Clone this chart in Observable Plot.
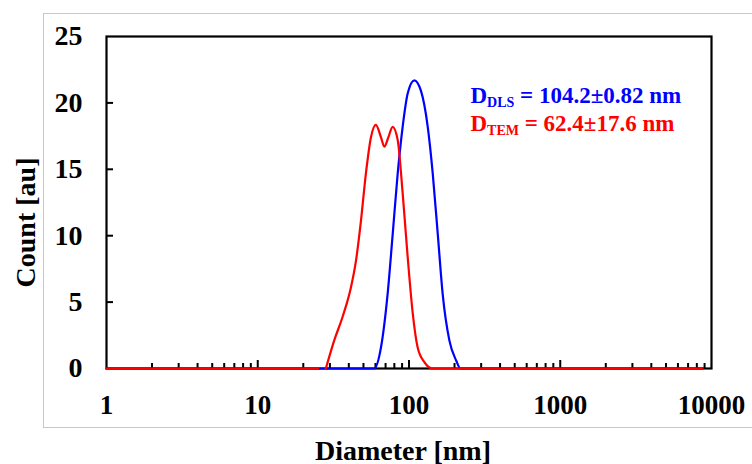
<!DOCTYPE html>
<html><head><meta charset="utf-8">
<script src="https://cdn.jsdelivr.net/npm/d3@7"></script>
<script src="https://cdn.jsdelivr.net/npm/@observablehq/plot@0.6"></script>
<style>
html,body{margin:0;padding:0;background:#fff;overflow:hidden;}
#wrap{position:relative;width:752px;height:464px;}
#border{position:absolute;left:43px;top:13px;width:760px;height:415px;border:1px solid #c8c8c8;box-sizing:border-box;}
#chart{position:absolute;left:0;top:0;}
</style></head><body>
<div id="wrap"><div id="border"></div><div id="chart"></div></div>
<script>
// ---- data ----
const xTicks = [1, 10, 100, 1000, 10000];
const xMinorTicks = [2,3,4,5,6,7,8,9, 20,30,40,50,60,70,80,90, 200,300,400,500,600,700,800,900, 2000,3000,4000,5000,6000,7000,8000,9000];
const xMajorInnerTicks = [10, 100, 1000];
const yTicks = [0, 5, 10, 15, 20, 25];
const yInnerTicks = [5, 10, 15, 20];

const dlsDiameter = [1, 58.9, 65.3, 72.2, 78, 84.2, 90.8, 98, 108.4, 120, 133, 143.5, 155, 167, 185, 205, 219, 8700];
const dlsCount    = [0, 0,    1.6,  5.6,  10.1, 14.7, 18.2, 20.7, 21.7, 20.9, 18.2, 14.7, 10.1, 5.6, 2.1, 0.6, 0, 0];

const temDiameter = [1, 25, 26.5, 28.2, 32, 36.4, 41.3, 44.6, 48.1, 51.9, 56, 60.4, 65.3, 68.7, 73, 78, 84.2, 90.8, 98, 106, 114, 126, 143.5, 8700];
const temCount    = [0, 0, null, 0,  2.1, 3.9, 6.1, 8.1, 11.1, 14.7, 17.4, 18.35, 17.4, 16.7, 17.4, 18.2, 17.2, 13.2, 8.4, 4.1, 1.6, 0.5, 0, 0];

const xTitle = "Diameter [nm]";
const yTitle = "Count [au]";
const annoLines = ["D|DLS| = 104.2±0.82 nm", "D|TEM| = 62.4±17.6 nm"];

// ---- chart ----
const W = 752, H = 464, mL = 106, mR = 41, mT = 36, mB = 96;
const plotW = W - mL - mR, plotH = H - mT - mB;
const dls = dlsDiameter.map((d, i) => ({d, c: dlsCount[i]}));
const tem = temDiameter.map((d, i) => ({d, c: temCount[i]}));
const font = "'Liberation Serif','Times New Roman',Times,serif";

const chart = Plot.plot({
  width: W, height: H,
  marginLeft: mL, marginRight: mR, marginTop: mT, marginBottom: mB,
  style: {fontFamily: font, fontWeight: "bold", background: "transparent", color: "black", overflow: "visible"},
  x: {type: "log", domain: [1, 10000]},
  y: {domain: [0, 25]},
  marks: [
    Plot.frame({stroke: "black", strokeWidth: 2.2}),
    Plot.ruleX(xMinorTicks, {stroke: "black", strokeWidth: 2, insetTop: plotH - 5}),
    Plot.ruleX(xMajorInnerTicks, {stroke: "black", strokeWidth: 2, insetTop: plotH - 8}),
    Plot.ruleY(yInnerTicks, {stroke: "black", strokeWidth: 2, insetRight: plotW - 7}),
    Plot.axisX({ticks: xTicks, tickSize: 0, tickPadding: 26, fontSize: 27, fontWeight: "bold", tickFormat: d => String(d), label: null}),
    Plot.axisY({ticks: yTicks, tickSize: 0, tickPadding: 24, fontSize: 28, fontWeight: "bold", label: null}),
    Plot.line(dls, {x: "d", y: "c", stroke: "#0000ff", strokeWidth: 2.2, curve: "monotone-x"}),
    Plot.line(tem, {x: "d", y: "c", stroke: "#ff0000", strokeWidth: 2.2, curve: "monotone-x"}),
    Plot.text([xTitle], {frameAnchor: "bottom", lineAnchor: "bottom", dy: 91, dx: -6, fontSize: 28, fontWeight: "bold"}),
    Plot.text([yTitle], {frameAnchor: "left", textAnchor: "middle", lineAnchor: "bottom", rotate: -90, dx: -72, dy: 20, fontSize: 28, fontWeight: "bold"}),
    Plot.text([annoLines[0]], {x: 255, y: 20, textAnchor: "start", lineAnchor: "bottom", fontSize: 23, fontWeight: "bold", fill: "#0000ff"}),
    Plot.text([annoLines[1]], {x: 255, y: 17.9, textAnchor: "start", lineAnchor: "bottom", fontSize: 23, fontWeight: "bold", fill: "#ff0000"})
  ]
});
document.getElementById("chart").appendChild(chart);

// subscripts in annotations
d3.select(chart).selectAll("text").each(function() {
  const t = this.textContent;
  if (!t.includes("|")) return;
  const [main, sub, rest] = t.split("|");
  const sel = d3.select(this);
  sel.text(null);
  sel.append("tspan").text(main);
  sel.append("tspan").attr("font-size", 14).attr("dy", 4).text(sub);
  sel.append("tspan").attr("dy", -4).text(rest);
});
</script>
</body></html>
